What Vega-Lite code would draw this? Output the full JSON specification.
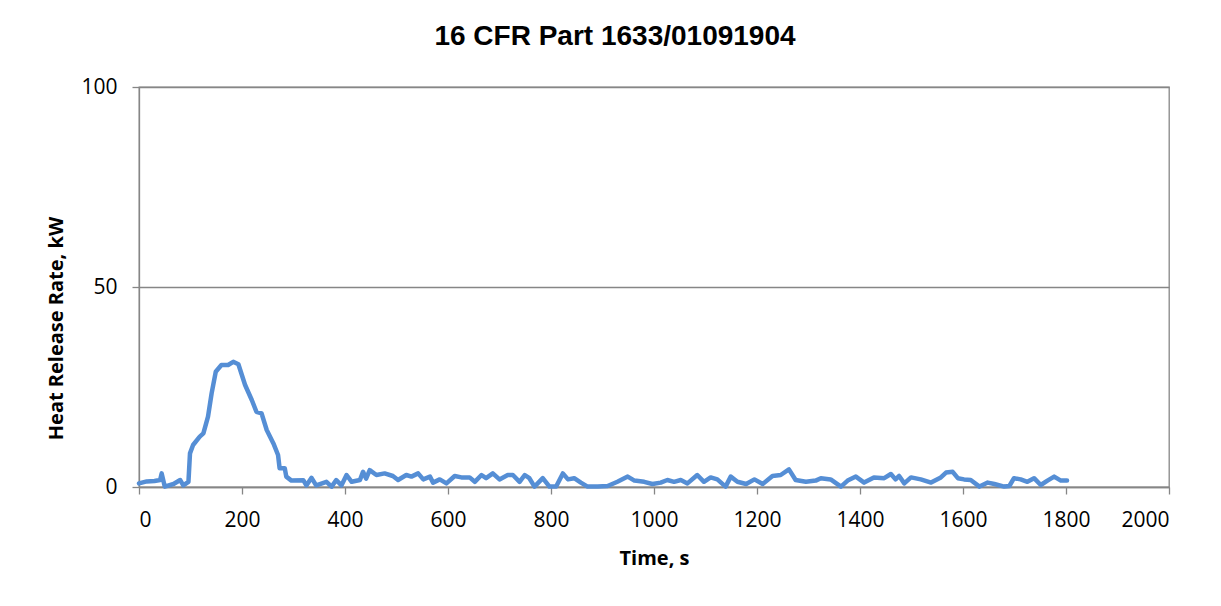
{
  "$schema": "https://vega.github.io/schema/vega-lite/v6.json",
  "width": 1030,
  "height": 400,
  "autosize": {"type": "none"},
  "padding": {"left": 139, "top": 87, "right": 52, "bottom": 119},
  "background": "white",
  "title": {
    "text": "16 CFR Part 1633/01091904",
    "font": "Liberation Sans",
    "fontSize": 28,
    "fontWeight": "bold",
    "color": "#000000",
    "anchor": "middle",
    "dx": -39,
    "offset": 25
  },
  "config": {
    "view": {"stroke": "#868686", "strokeWidth": 1.3},
    "axis": {
      "labelFont": "Open Sans",
      "labelFontSize": 21,
      "labelColor": "#000000",
      "titleFont": "Open Sans",
      "titleFontSize": 20,
      "titleFontWeight": "bold",
      "titleColor": "#000000",
      "domainColor": "#868686",
      "domainWidth": 1.3,
      "tickColor": "#868686",
      "tickWidth": 1.3,
      "tickSize": 7,
      "gridColor": "#868686",
      "gridWidth": 1.3
    }
  },
  "data": {
    "values": [
      {"t": 0, "hrr": 0.9},
      {"t": 15, "hrr": 1.4},
      {"t": 30, "hrr": 1.5},
      {"t": 41, "hrr": 1.75},
      {"t": 44, "hrr": 3.4},
      {"t": 50, "hrr": 0.1},
      {"t": 67, "hrr": 0.75},
      {"t": 80, "hrr": 1.75},
      {"t": 86, "hrr": 0.4},
      {"t": 96, "hrr": 1.3},
      {"t": 99, "hrr": 8.4},
      {"t": 105, "hrr": 10.5},
      {"t": 118, "hrr": 12.6},
      {"t": 125, "hrr": 13.4},
      {"t": 134, "hrr": 17.6},
      {"t": 141, "hrr": 23.4},
      {"t": 149, "hrr": 28.8},
      {"t": 160, "hrr": 30.5},
      {"t": 173, "hrr": 30.5},
      {"t": 183, "hrr": 31.3},
      {"t": 193, "hrr": 30.7},
      {"t": 206, "hrr": 25.5},
      {"t": 219, "hrr": 21.75},
      {"t": 228, "hrr": 18.8},
      {"t": 238, "hrr": 18.4},
      {"t": 248, "hrr": 14.25},
      {"t": 261, "hrr": 10.9},
      {"t": 270, "hrr": 8},
      {"t": 273, "hrr": 4.7},
      {"t": 283, "hrr": 4.7},
      {"t": 286, "hrr": 2.6},
      {"t": 296, "hrr": 1.6},
      {"t": 319, "hrr": 1.7},
      {"t": 325, "hrr": 0.4},
      {"t": 335, "hrr": 2.3},
      {"t": 344, "hrr": 0.4},
      {"t": 364, "hrr": 1.3},
      {"t": 374, "hrr": 0.1},
      {"t": 383, "hrr": 1.75},
      {"t": 393, "hrr": 0.4},
      {"t": 403, "hrr": 3},
      {"t": 413, "hrr": 1.3},
      {"t": 429, "hrr": 1.75},
      {"t": 435, "hrr": 3.8},
      {"t": 441, "hrr": 2.1},
      {"t": 448, "hrr": 4.2},
      {"t": 461, "hrr": 3},
      {"t": 477, "hrr": 3.4},
      {"t": 493, "hrr": 2.75},
      {"t": 503, "hrr": 1.75},
      {"t": 519, "hrr": 3},
      {"t": 529, "hrr": 2.6},
      {"t": 542, "hrr": 3.4},
      {"t": 552, "hrr": 1.9},
      {"t": 565, "hrr": 2.6},
      {"t": 571, "hrr": 1.1},
      {"t": 584, "hrr": 1.9},
      {"t": 597, "hrr": 0.9},
      {"t": 613, "hrr": 2.75},
      {"t": 626, "hrr": 2.4},
      {"t": 642, "hrr": 2.4},
      {"t": 652, "hrr": 1.3},
      {"t": 665, "hrr": 3},
      {"t": 674, "hrr": 2.2},
      {"t": 687, "hrr": 3.4},
      {"t": 700, "hrr": 1.9},
      {"t": 716, "hrr": 3},
      {"t": 726, "hrr": 3},
      {"t": 739, "hrr": 1.3},
      {"t": 749, "hrr": 3},
      {"t": 758, "hrr": 2.2},
      {"t": 768, "hrr": 0.1},
      {"t": 784, "hrr": 2.2},
      {"t": 797, "hrr": 0.1},
      {"t": 810, "hrr": 0.1},
      {"t": 823, "hrr": 3.4},
      {"t": 833, "hrr": 1.9},
      {"t": 845, "hrr": 2.2},
      {"t": 858, "hrr": 1.1},
      {"t": 871, "hrr": 0.1},
      {"t": 891, "hrr": 0.1},
      {"t": 910, "hrr": 0.25},
      {"t": 929, "hrr": 1.3},
      {"t": 949, "hrr": 2.6},
      {"t": 962, "hrr": 1.6},
      {"t": 981, "hrr": 1.3},
      {"t": 997, "hrr": 0.75},
      {"t": 1013, "hrr": 1.1},
      {"t": 1026, "hrr": 1.75},
      {"t": 1039, "hrr": 1.3},
      {"t": 1052, "hrr": 1.75},
      {"t": 1065, "hrr": 0.9},
      {"t": 1084, "hrr": 3},
      {"t": 1097, "hrr": 1.3},
      {"t": 1110, "hrr": 2.4},
      {"t": 1123, "hrr": 1.9},
      {"t": 1139, "hrr": 0.1},
      {"t": 1149, "hrr": 2.6},
      {"t": 1162, "hrr": 1.3},
      {"t": 1179, "hrr": 0.75},
      {"t": 1195, "hrr": 1.9},
      {"t": 1211, "hrr": 0.75},
      {"t": 1230, "hrr": 2.75},
      {"t": 1246, "hrr": 3},
      {"t": 1262, "hrr": 4.4},
      {"t": 1275, "hrr": 1.75},
      {"t": 1295, "hrr": 1.3},
      {"t": 1314, "hrr": 1.6},
      {"t": 1324, "hrr": 2.2},
      {"t": 1343, "hrr": 1.9},
      {"t": 1363, "hrr": 0.1},
      {"t": 1376, "hrr": 1.6},
      {"t": 1392, "hrr": 2.6},
      {"t": 1408, "hrr": 1.1},
      {"t": 1427, "hrr": 2.4},
      {"t": 1447, "hrr": 2.2},
      {"t": 1460, "hrr": 3.25},
      {"t": 1469, "hrr": 1.9},
      {"t": 1476, "hrr": 2.75},
      {"t": 1486, "hrr": 0.9},
      {"t": 1499, "hrr": 2.4},
      {"t": 1518, "hrr": 1.9},
      {"t": 1538, "hrr": 1.1},
      {"t": 1557, "hrr": 2.4},
      {"t": 1567, "hrr": 3.6},
      {"t": 1580, "hrr": 3.8},
      {"t": 1590, "hrr": 2.2},
      {"t": 1602, "hrr": 1.9},
      {"t": 1615, "hrr": 1.75},
      {"t": 1632, "hrr": 0.1},
      {"t": 1648, "hrr": 1.1},
      {"t": 1661, "hrr": 0.75},
      {"t": 1680, "hrr": 0.1},
      {"t": 1690, "hrr": 0.25},
      {"t": 1699, "hrr": 2.2},
      {"t": 1712, "hrr": 1.9},
      {"t": 1725, "hrr": 1.3},
      {"t": 1738, "hrr": 2.2},
      {"t": 1751, "hrr": 0.5},
      {"t": 1764, "hrr": 1.6},
      {"t": 1777, "hrr": 2.6},
      {"t": 1790, "hrr": 1.6},
      {"t": 1802, "hrr": 1.6}
    ]
  },
  "mark": {"type": "line", "color": "#558ED5", "strokeWidth": 4.5, "strokeJoin": "round", "strokeCap": "round"},
  "encoding": {
    "x": {
      "field": "t",
      "type": "quantitative",
      "scale": {"domain": [0, 2000], "nice": false},
      "axis": {
        "title": "Time, s",
        "format": "d",
        "values": [0, 200, 400, 600, 800, 1000, 1200, 1400, 1600, 1800, 2000],
        "grid": false,
        "labelPadding": 15,
        "titlePadding": 18
      }
    },
    "y": {
      "field": "hrr",
      "type": "quantitative",
      "scale": {"domain": [0, 100], "nice": false},
      "axis": {
        "title": "Heat Release Rate, kW",
        "format": "d",
        "values": [0, 50, 100],
        "grid": true,
        "labelPadding": 15,
        "titlePadding": 14,
        "titleY": 241
      }
    }
  }
}
